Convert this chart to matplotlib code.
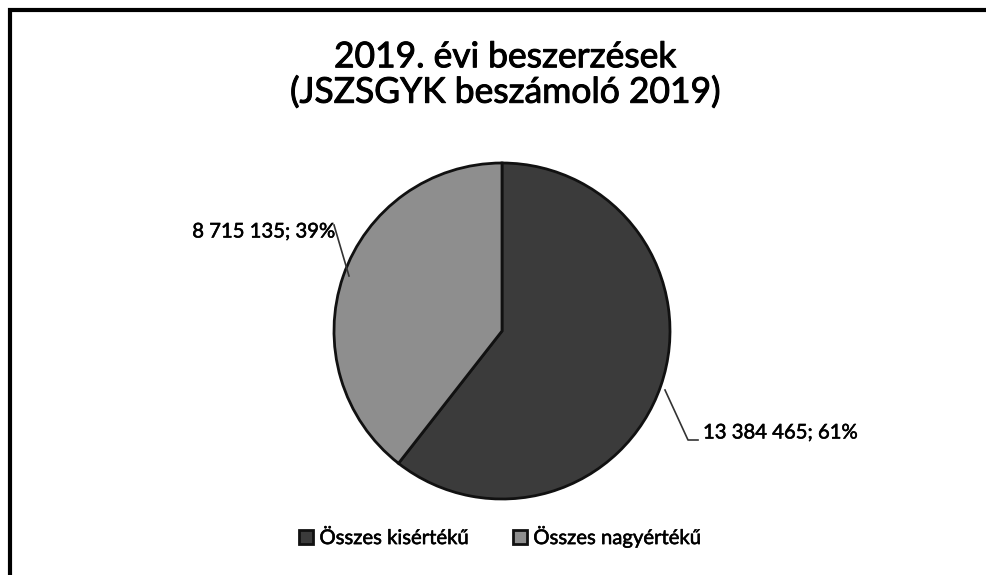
import matplotlib.pyplot as plt
import matplotlib.patheffects as pe
from matplotlib.patches import Rectangle

plt.rcParams["font.family"] = ["Lato", "DejaVu Sans"]

title = "2019. évi beszerzések\n(JSZSGYK beszámoló 2019)"
categories = ["Összes kisértékű", "Összes nagyértékű"]
values = [13384465, 8715135]
percents = [61, 39]
colors = ["#3b3b3b", "#8e8e8e"]

W, H = 986, 575
fig = plt.figure(figsize=(W / 100, H / 100), dpi=100)
ax = fig.add_axes([0, 0, 1, 1])

# slightly thickened glyphs, like the scanned print
thick = [pe.withStroke(linewidth=0.4, foreground="black")]

# frame of the scanned chart (runs off the right and bottom edge)
ax.add_patch(Rectangle((10, -20), W + 20, H - 10 + 20, fill=False,
                       edgecolor="black", linewidth=3))

cx, cy, r = 502, H - 331, 168
wedges, _ = ax.pie(values, colors=colors, startangle=90, counterclock=False,
                   center=(cx, cy), radius=r, frame=True,
                   wedgeprops=dict(edgecolor="#111111", linewidth=2))
ax.set_xlim(0, W)
ax.set_ylim(0, H)
ax.set_aspect("equal")
ax.axis("off")


def fmt(v, p):
    s = f"{v:,}".replace(",", " ")
    return f"{s}; {p}%"


# data labels with leader lines
ax.text(335, H - 232, fmt(values[1], percents[1]), ha="right", va="center",
        fontsize=14.6, path_effects=thick)
ax.plot([334, 349], [H - 225, H - 276], color="#333333", lw=1.2)

ax.text(703, H - 433, fmt(values[0], percents[0]), ha="left", va="center",
        fontsize=14.6, path_effects=thick)
ax.plot([665, 688, 698], [H - 390, H - 440, H - 440], color="#333333", lw=1.2)

ax.text(505, H - 75, title, ha="center", va="center", fontsize=25.5,
        linespacing=1.12, path_effects=[pe.withStroke(linewidth=0.7, foreground="black")])

leg = ax.legend(wedges, categories, loc="center", bbox_to_anchor=(500 / W, 1 - 537 / H),
                ncol=2, frameon=False, fontsize=14.6, handlelength=0.7,
                handleheight=0.7, columnspacing=2.2, handletextpad=0.3)
for t in leg.get_texts():
    t.set_path_effects(thick)

fig.savefig("out.png", dpi=100)
